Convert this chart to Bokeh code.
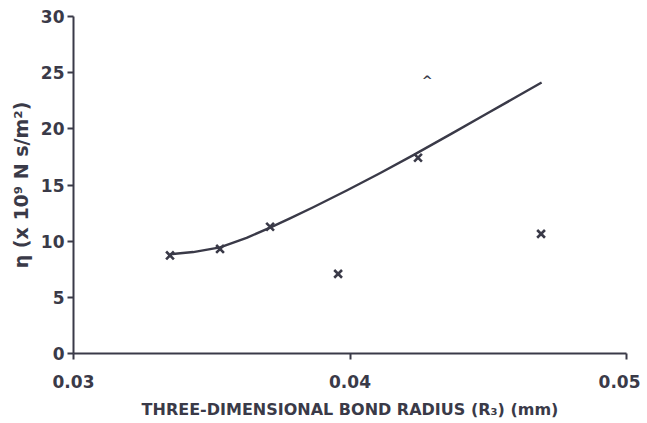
from bokeh.plotting import figure
from bokeh.models import Range1d, FixedTicker
from bokeh.core.properties import value
from bokeh.embed import file_html
from bokeh.resources import INLINE

# measured points (x)
radius = [0.03349, 0.0353, 0.03711, 0.03957, 0.04246, 0.04691]
eta = [8.73, 9.31, 11.28, 7.09, 17.43, 10.65]

# odd caret mark
caret_x = [0.04279]
caret_y = [24.29]

# fitted curve
curve_x = [0.03349, 0.03433, 0.03530, 0.03626, 0.03711, 0.03783, 0.03867,
           0.03988, 0.04108, 0.04229, 0.04374, 0.04494, 0.04615, 0.04693]
curve_y = [8.84, 9.03, 9.45, 10.30, 11.21, 12.03, 13.02,
           14.51, 16.05, 17.66, 19.66, 21.34, 23.03, 24.12]

x_ticks = [0.03, 0.04, 0.05]
y_ticks = [0, 5, 10, 15, 20, 25, 30]

INK = "#3a3a48"
FONT = "DejaVu Sans"

p = figure(width=640, height=423, output_backend="svg", toolbar_location=None,
           x_range=Range1d(0.03, 0.05), y_range=Range1d(0, 30),
           min_border_left=73, min_border_top=16, min_border_right=14,
           min_border_bottom=70)
p.outline_line_color = None
p.grid.visible = False
p.background_fill_color = "white"

p.line(curve_x, curve_y, line_color=INK, line_width=2.4, line_join="round")
p.scatter(radius, eta, marker="x", size=11, line_color=INK, line_width=2.6)
p.text(caret_x, caret_y, text=["^"], text_align="center", text_baseline="middle",
       text_color=INK, text_font=value(FONT), text_font_size="13px",
       text_font_style="bold")

for ax in (p.xaxis[0], p.yaxis[0]):
    ax.axis_line_color = INK
    ax.axis_line_width = 2
    ax.major_tick_line_color = INK
    ax.major_tick_line_width = 2
    ax.major_tick_out = 6
    ax.major_tick_in = 0
    ax.minor_tick_line_color = None
    ax.major_label_text_color = INK
    ax.major_label_text_font = FONT
    ax.major_label_text_font_size = "17px"
    ax.major_label_text_font_style = "bold"
    ax.axis_label_text_color = INK
    ax.axis_label_text_font = FONT
    ax.axis_label_text_font_style = "bold"

p.xaxis.axis_label_text_font_size = "16px"
p.yaxis.axis_label_text_font_size = "19px"
p.xaxis.ticker = FixedTicker(ticks=x_ticks)
p.yaxis.ticker = FixedTicker(ticks=y_ticks)
p.xaxis.major_label_standoff = 15
p.yaxis.major_label_standoff = 3
p.xaxis.axis_label = "THREE-DIMENSIONAL BOND RADIUS (R\u2083) (mm)"
p.yaxis.axis_label = "\u03b7 (x 10\u2079 N s/m\u00b2)"
p.xaxis.axis_label_standoff = 9
p.yaxis.axis_label_standoff = 6

open("out.html", "w").write(file_html(p, INLINE))
